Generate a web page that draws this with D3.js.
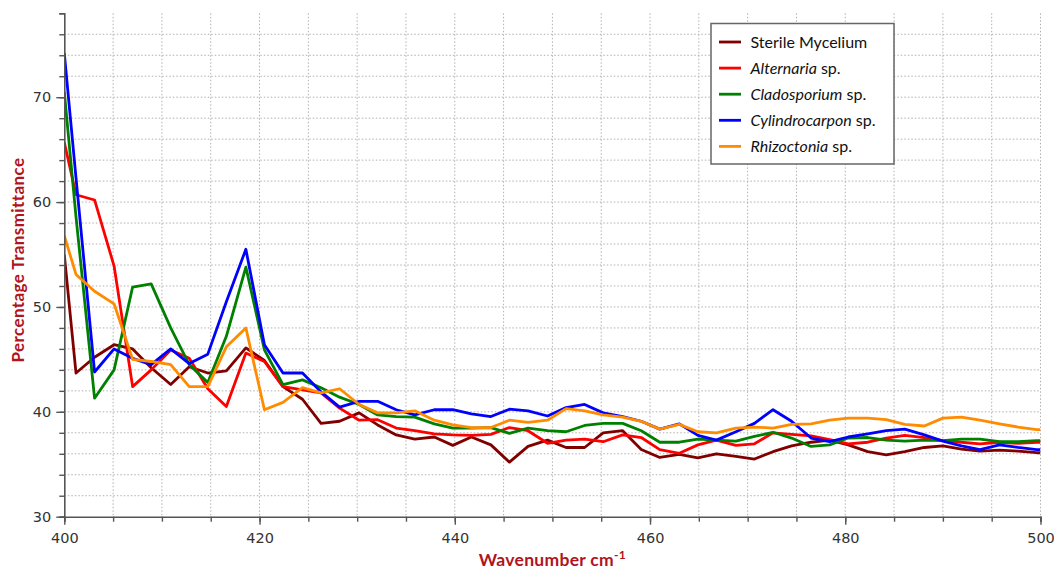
<!DOCTYPE html>
<html>
<head>
<meta charset="utf-8">
<script src="https://cdn.jsdelivr.net/npm/d3@7.9.0/dist/d3.min.js"></script>
<style>
  body { margin: 0; background: #fff; }
  svg { display: block; }
</style>
</head>
<body>
<svg id="chart" width="1054" height="571"></svg>
<script>
const wavenumbers = [
  400.0, 401.2, 403.1, 405.1, 407.0, 408.9, 410.9, 412.8, 414.7, 416.6,
  418.6, 420.5, 422.4, 424.4, 426.3, 428.2, 430.2, 432.1, 434.0, 435.9,
  437.9, 439.8, 441.7, 443.7, 445.6, 447.5, 449.5, 451.4, 453.3, 455.2,
  457.2, 459.1, 461.0, 463.0, 464.9, 466.8, 468.8, 470.7, 472.6, 474.5,
  476.5, 478.4, 480.3, 482.3, 484.2, 486.1, 488.1, 490.0, 491.9, 493.8,
  495.8, 497.7, 499.6, 500.0
];

const sterile = [
  55.0, 43.7, 45.2, 46.4, 46.0, 44.2, 42.6, 44.3, 43.7, 43.9,
  46.1, 44.9, 42.4, 41.2, 38.9, 39.1, 39.9, 38.75, 37.8, 37.4,
  37.6, 36.8, 37.6, 36.85, 35.2, 36.7, 37.3, 36.6, 36.6, 38.0,
  38.2, 36.4, 35.65, 35.95, 35.6, 36.0, 35.75, 35.5, 36.2, 36.75,
  37.1, 37.3, 36.85, 36.2, 35.9, 36.2, 36.6, 36.75, 36.45, 36.25,
  36.35, 36.25, 36.1, 36.1
];

const alternaria = [
  65.7, 60.7, 60.2, 53.9, 42.4, 44.0, 45.9, 45.1, 42.2, 40.5,
  45.6, 44.8, 42.4, 42.1, 41.8, 40.35, 39.2, 39.25, 38.45, 38.2,
  37.9, 37.8, 37.75, 37.85, 38.5, 38.2, 37.0, 37.3, 37.4, 37.15,
  37.8, 37.55, 36.4, 36.05, 36.85, 37.3, 36.8, 36.95, 38.0, 37.85,
  37.7, 37.35, 36.95, 37.1, 37.5, 37.75, 37.55, 37.25, 37.1, 36.95,
  37.1, 37.0, 37.1, 37.1
];

const cladosporium = [
  70.5, 58.6, 41.3, 44.0, 51.9, 52.2, 48.0, 44.5, 42.8, 47.2,
  53.8, 45.9, 42.6, 43.05, 42.3, 41.4, 40.7, 39.7, 39.55, 39.5,
  38.85, 38.45, 38.45, 38.5, 37.95, 38.45, 38.2, 38.1, 38.7, 38.9,
  38.9, 38.2, 37.1, 37.1, 37.4, 37.3, 37.2, 37.65, 38.05, 37.5,
  36.7, 36.85, 37.5, 37.55, 37.3, 37.2, 37.3, 37.25, 37.4, 37.4,
  37.15, 37.15, 37.25, 37.25
];

const cylindrocarpon = [
  74.2, 62.3, 43.8, 46.0, 45.1, 44.5, 46.0, 44.6, 45.5, 50.5,
  55.5, 46.4, 43.7, 43.7, 41.9, 40.45, 41.0, 41.0, 40.2, 39.7,
  40.2, 40.2, 39.8, 39.55, 40.25, 40.1, 39.6, 40.4, 40.7, 39.9,
  39.55, 39.1, 38.35, 38.85, 37.75, 37.3, 38.1, 38.9, 40.2, 39.1,
  37.5, 37.15, 37.6, 37.9, 38.2, 38.35, 37.8, 37.2, 36.75, 36.4,
  36.85, 36.6, 36.4, 36.4
];

const rhizoctonia = [
  56.8, 53.1, 51.5, 50.3, 45.0, 44.8, 44.5, 42.4, 42.4, 46.2,
  48.0, 40.2, 40.9, 42.3, 41.8, 42.2, 40.7, 39.9, 39.9, 40.1,
  39.2, 38.75, 38.5, 38.5, 39.2, 39.0, 39.2, 40.3, 40.1, 39.7,
  39.5, 39.1, 38.35, 38.8, 38.1, 38.0, 38.45, 38.55, 38.45, 38.8,
  38.85, 39.2, 39.4, 39.4, 39.25, 38.8, 38.65, 39.4, 39.5, 39.2,
  38.85, 38.55, 38.3, 38.3
];

const seriesNames = ['Sterile Mycelium', 'Alternaria', 'Cladosporium', 'Cylindrocarpon', 'Rhizoctonia'];
const seriesItalic = [false, true, true, true, true];
const seriesColors = ['#800000', '#ff0000', '#008000', '#0000ff', '#ff8c00'];
const seriesValues = [sterile, alternaria, cladosporium, cylindrocarpon, rhizoctonia];

const xMajorTicks = [400, 420, 440, 460, 480, 500];
const yMajorTicks = [30, 40, 50, 60, 70];

const titleColor = '#b0141c';

const svg = d3.select('#chart');
const margin = { top: 13.3, right: 13.5, bottom: 54.3, left: 64.3 };
const width = 1054 - margin.left - margin.right;
const height = 571 - margin.top - margin.bottom;

const x = d3.scaleLinear().domain([400, 500]).range([0, width]);
const y = d3.scaleLinear().domain([30, 78]).range([height, 0]);

const g = svg.append('g').attr('transform', `translate(${margin.left},${margin.top})`);

// dotted grid
const gridH = d3.range(32, 77, 2);
const gridV = d3.range(405, 501, 5);

g.append('g')
  .selectAll('line')
  .data(gridH)
  .join('line')
  .attr('x1', 0)
  .attr('x2', width)
  .attr('y1', d => y(d))
  .attr('y2', d => y(d))
  .attr('stroke', '#b0b0b0')
  .attr('stroke-width', 1)
  .attr('stroke-dasharray', '1.5,2');

g.append('g')
  .selectAll('line')
  .data(gridV)
  .join('line')
  .attr('x1', d => x(d))
  .attr('x2', d => x(d))
  .attr('y1', 0)
  .attr('y2', height)
  .attr('stroke', '#b0b0b0')
  .attr('stroke-width', 1)
  .attr('stroke-dasharray', '1.5,2');

// lines
svg.append('defs').append('clipPath').attr('id', 'plot-clip')
  .append('rect').attr('width', width).attr('height', height);

const line = d3.line()
  .x(d => x(d[0]))
  .y(d => y(d[1]));

g.append('g')
  .attr('clip-path', 'url(#plot-clip)')
  .selectAll('path')
  .data(seriesValues)
  .join('path')
  .attr('d', vals => line(wavenumbers.map((w, i) => [w, vals[i]])))
  .attr('fill', 'none')
  .attr('stroke', (d, i) => seriesColors[i])
  .attr('stroke-width', 2.8)
  .attr('stroke-linejoin', 'round');

// axes
const axisColor = '#555';

const xAxis = g.append('g')
  .attr('transform', `translate(0,${height})`)
  .call(d3.axisBottom(x).tickValues(d3.range(400, 501, 5)).tickSize(5).tickFormat(''));
xAxis.append('g')
  .call(d3.axisBottom(x).tickValues(xMajorTicks).tickSize(8).tickPadding(8))
  .call(a => a.select('.domain').remove());

const yAxis = g.append('g')
  .call(d3.axisLeft(y).tickValues(d3.range(30, 79, 2)).tickSize(5).tickFormat(''));
yAxis.append('g')
  .call(d3.axisLeft(y).tickValues(yMajorTicks).tickSize(8).tickPadding(5))
  .call(a => a.select('.domain').remove());

g.selectAll('.domain').attr('stroke', axisColor).attr('stroke-width', 1.6);
g.selectAll('.tick line').attr('stroke', axisColor).attr('stroke-width', 1.4);
g.selectAll('.tick text')
  .attr('fill', '#333')
  .style('font-family', 'DejaVu Sans, sans-serif')
  .style('font-size', '14.5px');

// axis titles
const xTitle = svg.append('text')
  .attr('x', margin.left + width / 2)
  .attr('y', 566)
  .attr('text-anchor', 'middle')
  .attr('fill', titleColor)
  .style('font-family', 'Lato, sans-serif')
  .style('font-weight', 'bold')
  .style('font-size', '17.5px')
  .style('letter-spacing', '0.3px');
xTitle.append('tspan').text('Wavenumber cm');
xTitle.append('tspan').attr('dy', -7).style('font-size', '12px').text('-1');

svg.append('text')
  .attr('transform', `translate(24,${margin.top + y(54) - 5}) rotate(-90)`)
  .attr('text-anchor', 'middle')
  .attr('fill', titleColor)
  .style('font-family', 'Lato, sans-serif')
  .style('font-weight', 'bold')
  .style('font-size', '17px')
  .style('letter-spacing', '0.4px')
  .text('Percentage Transmittance');

// legend
const legend = svg.append('g').attr('transform', 'translate(711,23.5)');
legend.append('rect')
  .attr('width', 183)
  .attr('height', 140.5)
  .attr('fill', '#fff')
  .attr('stroke', '#666')
  .attr('stroke-width', 1.5);

const rows = legend.selectAll('g.row')
  .data(seriesNames)
  .join('g')
  .attr('class', 'row')
  .attr('transform', (d, i) => `translate(0,${18.5 + i * 26.1})`);

rows.append('line')
  .attr('x1', 8)
  .attr('x2', 30)
  .attr('stroke', (d, i) => seriesColors[i])
  .attr('stroke-width', 2.8);

const labels = rows.append('text')
  .attr('x', 39.5)
  .attr('dy', '0.36em')
  .attr('fill', '#111')
  .style('font-family', 'Lato, sans-serif')
  .style('font-size', '16px');

labels.each(function (d, i) {
  const t = d3.select(this);
  if (seriesItalic[i]) {
    t.append('tspan').style('font-style', 'italic').text(d);
    t.append('tspan').text(' sp.');
  } else {
    t.text(d);
  }
});
</script>
</body>
</html>
